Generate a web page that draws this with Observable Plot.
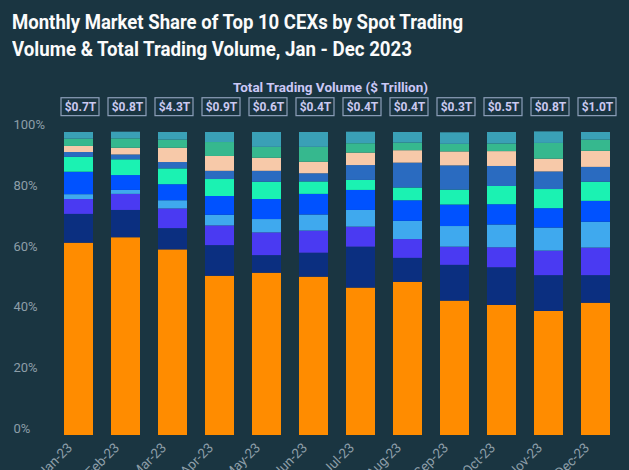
<!DOCTYPE html>
<html><head><meta charset="utf-8">
<script src="https://cdn.jsdelivr.net/npm/d3@7"></script>
<script src="https://cdn.jsdelivr.net/npm/@observablehq/plot@0.6"></script>
<style>
html,body{margin:0;padding:0;background:#1a3541;width:629px;height:470px;overflow:hidden;}
#head{position:relative;height:76px;}
.t{position:absolute;left:12px;font:bold 20px Roboto, sans-serif;color:#fbfbfb;white-space:nowrap;transform-origin:0 50%;}
#chart svg{display:block;}
</style></head><body>
<div id="head">
<div class="t" id="t1" style="top:10px">Monthly Market Share of Top 10 CEXs by Spot Trading</div>
<div class="t" id="t2" style="top:37px">Volume &amp; Total Trading Volume, Jan - Dec 2023</div>
</div>
<div id="chart"></div>
<script>
const months = ["Jan-23","Feb-23","Mar-23","Apr-23","May-23","Jun-23","Jul-23","Aug-23","Sep-23","Oct-23","Nov-23","Dec-23"];
const exchanges = ["CEX 1","CEX 2","CEX 3","CEX 4","CEX 5","CEX 6","CEX 7","CEX 8","CEX 9","CEX 10"];
const colors = ["#ff8c00","#0b2f80","#4a3af2","#3fa9ee","#0052ff","#1bf2b2","#2a6bc0","#f7c9a9","#36b88e","#3aa0b6"];
// market share (%) per exchange, Jan..Dec
const cex1 = [63.4, 65.2, 61.2, 52.5, 53.5, 52.2, 48.6, 50.5, 44.3, 42.9, 40.9, 43.6];
const cex2 = [9.5, 9.0, 7.0, 10.1, 5.8, 7.9, 13.5, 7.9, 11.8, 12.4, 11.8, 9.1];
const cex3 = [4.9, 5.3, 6.5, 6.5, 7.5, 7.3, 6.6, 6.2, 6.0, 6.6, 8.1, 9.1];
const cex4 = [1.6, 1.3, 2.7, 3.5, 4.4, 5.3, 5.5, 6.0, 6.8, 7.5, 7.6, 8.5];
const cex5 = [7.4, 4.9, 5.3, 6.2, 6.6, 6.8, 6.6, 6.8, 7.1, 6.7, 6.4, 6.9];
const cex6 = [4.9, 5.2, 5.2, 5.6, 5.7, 4.1, 3.3, 4.2, 4.9, 6.0, 6.3, 6.3];
const cex7 = [1.6, 1.6, 2.1, 2.7, 3.6, 2.7, 4.9, 8.2, 8.0, 6.6, 5.8, 4.9];
const cex8 = [2.0, 2.2, 4.7, 4.9, 4.3, 3.8, 4.1, 4.1, 4.6, 4.9, 4.2, 5.3];
const cex9 = [2.4, 3.1, 2.7, 4.6, 3.6, 4.9, 3.1, 2.5, 2.5, 2.5, 5.2, 3.7];
const cex10 = [2.2, 2.2, 2.5, 3.3, 4.9, 4.9, 3.8, 3.5, 3.8, 3.8, 3.8, 2.5];
// total trading volume ($ trillion)
const volumes = [0.7, 0.8, 4.3, 0.9, 0.6, 0.4, 0.4, 0.4, 0.3, 0.5, 0.8, 1.0];
const volumeTitle = "Total Trading Volume ($ Trillion)";
const yTicks = [0, 20, 40, 60, 80, 100];

const shares = [cex1,cex2,cex3,cex4,cex5,cex6,cex7,cex8,cex9,cex10];
const data = [];
shares.forEach((vals, i) => vals.forEach((v, j) => data.push({month: months[j], cex: exchanges[i], share: v})));
const vol = months.map((m, i) => ({month: m, v: volumes[i]}));

const chart = Plot.plot({
  width: 629, height: 394,
  marginLeft: 47, marginRight: 3, marginTop: 55.7, marginBottom: 35,
  style: {background: "transparent", color: "#8d9ea8", fontFamily: "Roboto, sans-serif", overflow: "hidden"},
  x: {domain: months, paddingInner: 0.384, paddingOuter: 0.236, label: null},
  y: {domain: [0, 100], label: null},
  color: {domain: exchanges, range: colors},
  marks: [
    Plot.barY(data, {x: "month", y: "share", fill: "cex", order: exchanges}),
    Plot.barY(vol, {x: "month", y1: 105.3, y2: 111.2, fill: "none", stroke: "#8d9fba", strokeWidth: 1.2, insetLeft: -4.5, insetRight: -4.5, dx: 1.5}),
    Plot.text(vol, {x: "month", y: 108.25, text: d => `$${d.v.toFixed(1)}T`, fill: "#cac9f0", fontWeight: "bold", fontSize: 12, dx: 1.5}),
    Plot.text([volumeTitle], {frameAnchor: "top", dy: -49.5, dx: -6.5, text: d => d, fill: "#cbc8f6", fontWeight: "bold", fontSize: 13.5}),
    Plot.axisY({ticks: yTicks, tickFormat: d => d + "%", tickSize: 0, tickPadding: 0, textAnchor: "start", dx: -34, dy: -7, fontSize: 13}),
    Plot.axisX({tickRotate: -45, tickSize: 0, tickPadding: 6, fontSize: 13.5, dx: -9, dy: 4})
  ]
});
document.getElementById("chart").appendChild(chart);

// fit title lines to the reference's condensed width
[["t1", 451], ["t2", 400]].forEach(([id, w]) => {
  const el = document.getElementById(id);
  const s = w / el.getBoundingClientRect().width;
  el.style.transform = `scaleX(${s})`;
});
</script>
</body></html>
